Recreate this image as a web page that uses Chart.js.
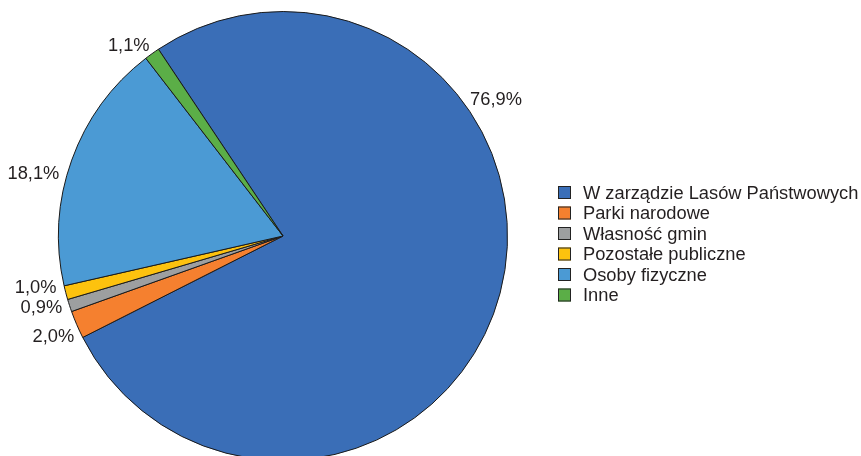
<!DOCTYPE html>
<html lang="pl">
<head>
<meta charset="utf-8">
<script src="https://cdn.jsdelivr.net/npm/chart.js@4.4.0/dist/chart.umd.min.js"></script>
<style>
    html, body { margin: 0; padding: 0; background: #fff; overflow: hidden; }
    #wrap { position: relative; width: 861px; height: 470px; }
</style>
</head>
<body>
<div id="wrap"><canvas id="pie"></canvas></div>
<script>
// dane
const categories = ['W zarządzie Lasów Państwowych', 'Parki narodowe', 'Własność gmin', 'Pozostałe publiczne', 'Osoby fizyczne', 'Inne'];
const shares = [76.9, 2.0, 0.9, 1.0, 18.1, 1.1];
const sliceColors = ['#3a6eb7', '#f5802f', '#9d9fa0', '#fdc20e', '#4b9ad4', '#5bae47'];

const FONT = '18.3px "Liberation Sans", Arial, sans-serif';
const TEXT_COLOR = '#231f20';

// etykiety procentowe na zewnątrz wycinków
const outsideLabels = {
    id: 'outsideLabels',
    afterDatasetsDraw(chart, args, opts) {
        const ctx = chart.ctx;
        const arcs = chart.getDatasetMeta(0).data;
        ctx.save();
        ctx.font = FONT;
        ctx.fillStyle = TEXT_COLOR;
        ctx.textAlign = 'center';
        ctx.textBaseline = 'middle';
        arcs.forEach((arc, i) => {
            const text = shares[i].toFixed(1).replace('.', ',') + '%';
            let a = (arc.startAngle + arc.endAngle) / 2;
            if (opts.angles[i] !== undefined) a = (opts.angles[i] - 90) * Math.PI / 180;
            const r = arc.outerRadius + opts.gap;
            const w = ctx.measureText(text).width;
            const h = 14;
            const cx = arc.x + Math.cos(a) * r + Math.cos(a) * w / 2;
            const cy = arc.y + Math.sin(a) * r + Math.sin(a) * h / 2;
            ctx.fillText(text, cx, cy);
        });
        ctx.restore();
    }
};

// legenda po prawej
const sideLegend = {
    id: 'sideLegend',
    afterDraw(chart, args, opts) {
        const ctx = chart.ctx;
        ctx.save();
        ctx.font = FONT;
        ctx.textBaseline = 'middle';
        categories.forEach((c, i) => {
            const y = opts.top + i * opts.step;
            ctx.fillStyle = sliceColors[i];
            ctx.fillRect(opts.left, y - 6.5, 13, 13);
            ctx.strokeStyle = '#222';
            ctx.lineWidth = 1;
            ctx.strokeRect(opts.left + 0.5, y - 6, 12, 12);
            ctx.fillStyle = TEXT_COLOR;
            ctx.fillText(c, opts.left + 25, y + 1);
        });
        ctx.restore();
    }
};

new Chart(document.getElementById('pie'), {
    type: 'pie',
    data: {
        labels: categories,
        datasets: [{
            data: shares,
            backgroundColor: sliceColors,
            borderColor: '#1a1a1a',
            borderWidth: 1
        }]
    },
    options: {
        responsive: true,
        maintainAspectRatio: false,
        animation: false,
        rotation: -33.7,
        layout: { padding: { top: 11, bottom: 9, left: 58, right: 353 } },
        plugins: {
            legend: { display: false },
            tooltip: { enabled: false },
            outsideLabels: { gap: 8, angles: { 0: 55.5, 1: 245, 2: 252.5, 3: 257.5, 4: 285, 5: 322.5 } },
            sideLegend: { left: 558, top: 192.5, step: 20.5 }
        }
    },
    plugins: [outsideLabels, sideLegend]
});
</script>
</body>
</html>
